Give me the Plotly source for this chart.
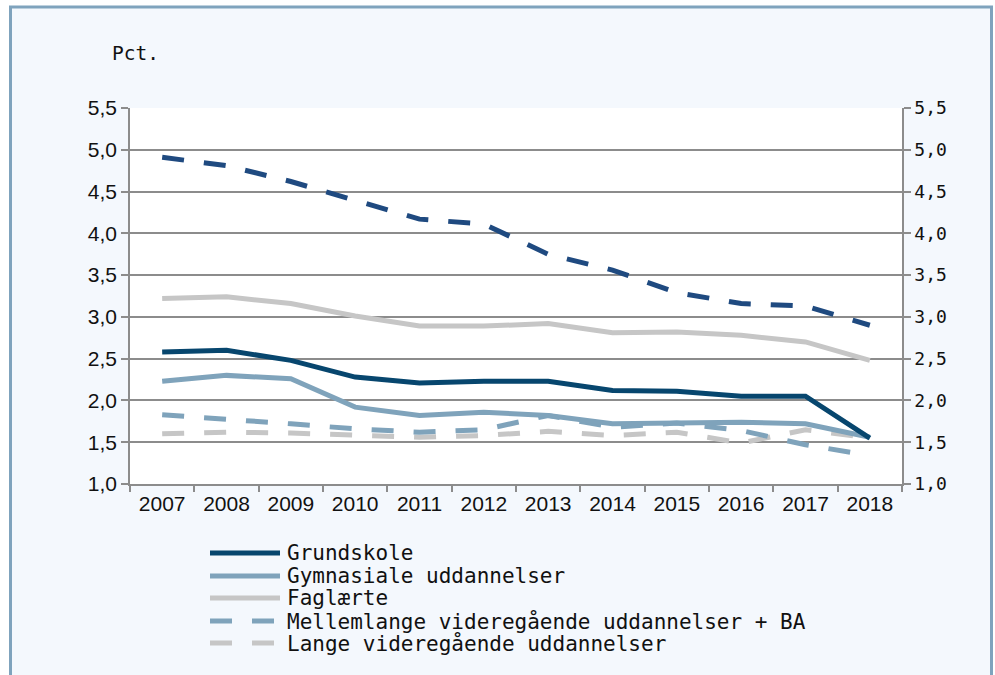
import plotly.graph_objects as go

years = ["2007", "2008", "2009", "2010", "2011", "2012", "2013", "2014", "2015", "2016", "2017", "2018"]

grundskole = [2.58, 2.60, 2.48, 2.28, 2.21, 2.23, 2.23, 2.12, 2.11, 2.05, 2.05, 1.55]
gymnasiale = [2.23, 2.30, 2.26, 1.92, 1.82, 1.86, 1.82, 1.72, 1.73, 1.74, 1.72, 1.56]
faglaerte = [3.22, 3.24, 3.16, 3.01, 2.89, 2.89, 2.92, 2.81, 2.82, 2.78, 2.70, 2.48]
mellemlange = [1.83, 1.78, 1.72, 1.66, 1.62, 1.65, 1.82, 1.68, 1.73, 1.64, 1.47, 1.34]
lange = [1.60, 1.62, 1.61, 1.59, 1.56, 1.58, 1.63, 1.58, 1.62, 1.49, 1.65, 1.55]
samlet = [4.91, 4.81, 4.62, 4.40, 4.17, 4.11, 3.75, 3.56, 3.29, 3.16, 3.13, 2.90]

tick_vals = [1.0, 1.5, 2.0, 2.5, 3.0, 3.5, 4.0, 4.5, 5.0, 5.5]
tick_text = ["1,0", "1,5", "2,0", "2,5", "3,0", "3,5", "4,0", "4,5", "5,0", "5,5"]

legend_names = ["Grundskole", "Gymnasiale uddannelser", "Faglærte",
                "Mellemlange videregående uddannelser + BA", "Lange videregående uddannelser"]

C_DARK = "#07466E"
C_NAVY = "#1F4A80"
C_BLUE = "#7FA3BB"
C_GREY = "#C6C6C6"
DASH = "22px,20px"
W = 5

fig = go.Figure()
series = [
    (lange, C_GREY, DASH, "y"),
    (mellemlange, C_BLUE, DASH, "y"),
    (faglaerte, C_GREY, "solid", "y"),
    (gymnasiale, C_BLUE, "solid", "y"),
    (grundskole, C_DARK, "solid", "y"),
    (samlet, C_NAVY, DASH, "y2"),
]
for vals, col, dash, ax in series:
    fig.add_trace(go.Scatter(x=years, y=vals, mode="lines", yaxis=ax,
                             line=dict(color=col, width=W, dash=dash),
                             showlegend=False, hoverinfo="skip"))

L, R, T, B = 130, 93, 108, 191
PW, PH = 995 - L - R, 675 - T - B


def px(x):
    return (x - L) / PW


def py(y):
    return (675 - B - y) / PH


shapes = [
    dict(type="rect", xref="paper", yref="paper", layer="below",
         x0=px(10.5), x1=px(991.5), y0=py(700), y1=py(7),
         fillcolor="#F4F8FD", line=dict(color="#7FA3BD", width=3)),
    dict(type="rect", xref="paper", yref="paper", layer="below",
         x0=0, x1=1, y0=0, y1=1, fillcolor="white", line=dict(width=0)),
]

legend_styles = [(C_DARK, "solid"), (C_BLUE, "solid"), (C_GREY, "solid"),
                 (C_BLUE, DASH), (C_GREY, DASH)]
legend_y = [553, 576, 598, 621, 643]
annotations = []
for name, (col, dash), ly in zip(legend_names, legend_styles, legend_y):
    shapes.append(dict(type="line", xref="paper", yref="paper",
                       x0=px(210), x1=px(280), y0=py(ly), y1=py(ly),
                       line=dict(color=col, width=W, dash=dash)))
    annotations.append(dict(xref="paper", yref="paper", x=px(285), y=py(ly),
                            xanchor="left", yanchor="middle", showarrow=False,
                            text=name, font=dict(family="DejaVu Sans Mono", size=21, color="#111")))

annotations.append(dict(xref="paper", yref="paper", x=px(110), y=py(53),
                        xanchor="left", yanchor="middle", showarrow=False,
                        text="Pct.", font=dict(family="DejaVu Sans Mono", size=19.5, color="#111")))

GRID = "#8C8C8C"
fig.update_layout(
    width=995, height=675,
    margin=dict(l=L, r=R, t=T, b=B, pad=0),
    paper_bgcolor="white",
    plot_bgcolor="white",
    showlegend=False,
    shapes=shapes,
    annotations=annotations,
    xaxis=dict(type="category", range=[-0.5, 11.5], showgrid=False, showline=True,
               linecolor=GRID, linewidth=1.5,
               ticks="outside", ticklen=6, tickcolor=GRID, tickwidth=1.5, tickson="boundaries",
               tickfont=dict(family="Liberation Sans", size=21, color="#111"),
               zeroline=False),
    yaxis=dict(range=[1.0, 5.5], tickvals=tick_vals, ticktext=tick_text,
               showgrid=True, gridcolor=GRID, gridwidth=1.5,
               showline=True, linecolor=GRID, linewidth=1.5,
               ticks="outside", ticklen=7, tickcolor=GRID, tickwidth=1.5,
               tickfont=dict(family="Liberation Sans", size=21, color="#111"),
               zeroline=False),
    yaxis2=dict(range=[1.0, 5.5], tickvals=tick_vals, ticktext=tick_text,
                overlaying="y", side="right", showgrid=False,
                showline=True, linecolor=GRID, linewidth=1.5,
                ticks="outside", ticklen=7, tickcolor=GRID, tickwidth=1.5,
                tickfont=dict(family="DejaVu Sans Mono", size=18, color="#111"),
                zeroline=False),
)

fig.write_html("out.html", config={"displayModeBar": False},
               post_script="document.body.style.margin='0';")
